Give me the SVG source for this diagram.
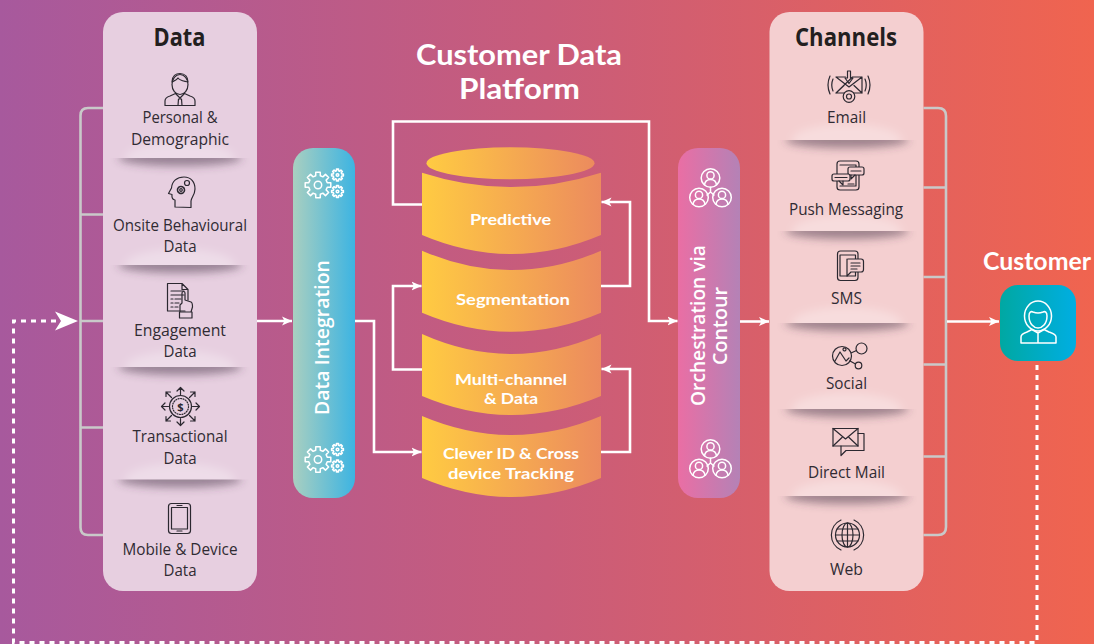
<svg xmlns="http://www.w3.org/2000/svg" xmlns:xlink="http://www.w3.org/1999/xlink" width="1094" height="644" viewBox="0 0 1094 644">
<style>
text{font-family:"Open Sans","Noto Sans","Liberation Sans",sans-serif;}
.lb{font-size:16px;fill:#302b33;text-anchor:middle;}
.hd{font-size:25px;font-weight:700;fill:#231f20;text-anchor:middle;}
.wt{font-family:Lato,"Open Sans",sans-serif;font-weight:700;fill:#fff;text-anchor:middle;}
.cy{font-family:Lato,"Open Sans",sans-serif;font-size:15.800px;font-weight:700;fill:#fff;text-anchor:middle;}
.rot{font-size:19.500px;font-weight:600;fill:#fff;text-anchor:middle;}
.flow{fill:none;stroke:#fff;stroke-width:2.600;}
.br{fill:none;stroke:#c9c9c9;stroke-width:2.600;}
.dash{fill:none;stroke:#fff;stroke-width:3;stroke-dasharray:5 5;}
.ic{fill:none;stroke:#2b2830;stroke-width:1.200;stroke-linejoin:round;stroke-linecap:round;}
.iw{fill:none;stroke:#fff;stroke-width:1.500;stroke-linejoin:round;stroke-linecap:round;}
</style>
<defs>
<linearGradient id="bg"><stop offset="0" stop-color="#a7599d"/><stop offset=".5" stop-color="#c95c7a"/><stop offset="1" stop-color="#f0644f"/></linearGradient>
<linearGradient id="cyl"><stop offset="0" stop-color="#ffcb42"/><stop offset="1" stop-color="#ec8b5e"/></linearGradient>
<linearGradient id="di"><stop offset="0" stop-color="#a9cfc0"/><stop offset="1" stop-color="#3db4e2"/></linearGradient>
<linearGradient id="or"><stop offset="0" stop-color="#ea6ea4"/><stop offset="1" stop-color="#b482b6"/></linearGradient>
<linearGradient id="cu"><stop offset="0" stop-color="#00a8a2"/><stop offset="1" stop-color="#00aee2"/></linearGradient>
<marker id="ah" markerUnits="userSpaceOnUse" markerWidth="12" markerHeight="10" refX="10" refY="5" orient="auto"><path d="M0 .5L10 5L0 9.500L2.500 5Z" fill="#fff"/></marker>
<filter id="bl" x="-20%" y="-100%" width="140%" height="300%"><feGaussianBlur stdDeviation="4"/></filter>
<clipPath id="below"><rect x="-70" y="0" width="140" height="26"/></clipPath>
<clipPath id="above"><rect x="-70" y="-26" width="140" height="26"/></clipPath>
<g id="sep">
<g clip-path="url(#above)"><ellipse cx="0" cy="0" rx="55" ry="16" fill="#fff" fill-opacity=".28" filter="url(#bl)"/></g>
<g clip-path="url(#below)"><ellipse cx="0" cy="0" rx="62" ry="8" fill="#4a3a4a" fill-opacity=".5" filter="url(#bl)"/></g>
</g>
<path id="gearshape" d="M-2.300-9.200L-2.260-12.800L2.260-12.800L2.300-9.200L4.890-8.140L7.460-10.650L10.650-7.460L8.140-4.890L9.220-2.300L12.800-2.260L12.800 2.260L9.220 2.300L8.140 4.890L10.650 7.460L7.460 10.650L4.890 8.140L2.300 9.200L2.260 12.800L-2.260 12.800L-2.300 9.200L-4.890 8.140L-7.460 10.650L-10.650 7.460L-8.140 4.890L-9.220 2.300L-12.800 2.260L-12.800-2.260L-9.220-2.300L-8.140-4.890L-10.650-7.460L-7.460-10.650L-4.890-8.140Z"/>
<g id="gears" class="iw">
<use xlink:href="#gearshape" href="#gearshape"/><circle r="3.700"/>
<g transform="translate(19.500,-10) scale(.46)" stroke-width="3.400"><use xlink:href="#gearshape" href="#gearshape"/><circle r="2.800"/></g>
<g transform="translate(19.500,6.500) scale(.46)" stroke-width="3.400"><use xlink:href="#gearshape" href="#gearshape"/><circle r="2.800"/></g>
</g>
<g id="pers"><circle r="9.300"/><circle cy="-2.600" r="3.600"/><path d="M-6 6.800C-5.500 2.500-3 1.400 0 1.400S5.500 2.500 6 6.800"/></g>
<g id="people" class="iw">
<use xlink:href="#pers" href="#pers" x="0" y="0"/><use xlink:href="#pers" href="#pers" x="-11.500" y="19.500"/><use xlink:href="#pers" href="#pers" x="11.500" y="19.500"/>
<path d="M0 9.300V14M0 14L-3.500 17M0 14L3.500 17"/>
</g>
</defs>

<rect id="background" width="1094" height="644" fill="url(#bg)"/>

<g id="connectors">
<path class="br" d="M103 108H88Q80.500 108 80.500 115.500V527.500Q80.500 535 88 535H103M80.500 214.500H103M80.500 321H103M80.500 427.500H103"/>
<path class="br" d="M923.500 108H938Q946 108 946 116V527Q946 535 938 535H923.500M923.500 187.500H946M923.500 277H946M923.500 364.500H946M923.500 456.500H946"/>
<path class="dash" d="M1037 365V642.500H13.500V321H56"/>
<polygon points="55,311.500 78,321 55,330.500 61,321" fill="#fff"/>
<path class="flow" d="M257 321H292" marker-end="url(#ah)"/>
<path class="flow" d="M355 321H374V452H421.500" marker-end="url(#ah)"/>
<path class="flow" d="M422 204.500H393V121.500H649V321H677.500" marker-end="url(#ah)"/>
<path class="flow" d="M601 286H630V202H601.500" marker-end="url(#ah)"/>
<path class="flow" d="M422 369.500H393V286H421.500" marker-end="url(#ah)"/>
<path class="flow" d="M601 452H630V369H601.500" marker-end="url(#ah)"/>
<path class="flow" d="M740 321.500H769" marker-end="url(#ah)"/>
<path class="flow" d="M947 321.500H999" marker-end="url(#ah)"/>
</g>

<g id="data-panel">
<rect x="103" y="12" width="154" height="579" rx="20" fill="#e7cfe0"/>
<text class="hd" x="179.500" y="46" textLength="52" lengthAdjust="spacingAndGlyphs">Data</text>
<use xlink:href="#sep" href="#sep" x="180" y="158"/>
<use xlink:href="#sep" href="#sep" x="180" y="265"/>
<use xlink:href="#sep" href="#sep" x="180" y="367"/>
<use xlink:href="#sep" href="#sep" x="180" y="479.500"/>
</g>
<g id="data-personal">
<g class="ic"><ellipse cx="180" cy="84.500" rx="8" ry="10"/><path d="M172 82C172 76 176 73.500 180 73.500C185 73.500 188 77 188 82C185 81 180 81 178 78C177 80 174 81 172 82Z"/><path d="M165 105.500V101C165 98 167 97 170 96L175.500 93.500L180 98L184.500 93.500L190 96C193 97 195 98 195 101V105.500ZM178 105.500L178.500 99H181.500L182 105.500"/></g>
<text class="lb" x="180" y="123" textLength="75" lengthAdjust="spacingAndGlyphs">Personal &amp;</text>
<text class="lb" x="180" y="145" textLength="98" lengthAdjust="spacingAndGlyphs">Demographic</text>
</g>
<g id="data-onsite">
<g class="ic"><path d="M175 207V200C171 199.500 172 196 172 194.500L168.500 193.500L171.500 188C172 181 177 177 184 177C191 177 195 182 195 189C195 195 191 198 191 201V207.500Z"/><circle cx="181" cy="190" r="3.500" stroke-dasharray="1.800 .9" stroke-width="1.600"/><circle cx="181" cy="190" r="1.300"/><circle cx="187" cy="183" r="2.500"/></g>
<text class="lb" x="180" y="231" textLength="134" lengthAdjust="spacingAndGlyphs">Onsite Behavioural</text>
<text class="lb" x="180" y="252" textLength="33" lengthAdjust="spacingAndGlyphs">Data</text>
</g>
<g id="data-engagement">
<g class="ic"><path d="M185 311H167.500V283.500H182L188 289.500V300M182 283.500V289.500H188M171 291H184M171 295H184M171 299H173M175 299H181M171 303H173M175 303H179M171 307H173M175 307H178"/><path d="M180 312V305L182 303V293C182 291 185 291 185 293V300L191 302C192.500 302.500 192.500 305 192.500 307L191 312M179.500 312H192V318H179.500Z"/></g>
<text class="lb" x="180" y="336" textLength="92" lengthAdjust="spacingAndGlyphs">Engagement</text>
<text class="lb" x="180" y="357" textLength="33" lengthAdjust="spacingAndGlyphs">Data</text>
</g>
<g id="data-transactional">
<g class="ic" transform="translate(180.500,406.500)" stroke-width="1.500"><circle r="11"/><circle r="8" stroke-dasharray="1 1.500"/>
<path d="M0-12V-19M-3.500-15.500L0-19L3.500-15.500M0 12V19M-3.500 15.500L0 19L3.500 15.500M-12 0H-19M-15.500-3.500L-19 0L-15.500 3.500M12 0H19M15.500-3.500L19 0L15.500 3.500M9-9L14.500-14.500M10-14.500H14.500V-10M-9-9L-14.500-14.500M-10-14.500H-14.500V-10M9 9L14.500 14.500M10 14.500H14.500V10M-9 9L-14.500 14.500M-10 14.500H-14.500V10"/></g>
<text x="180.500" y="410.500" font-size="11" font-weight="700" fill="#2b2830" text-anchor="middle">$</text>
<text class="lb" x="180" y="442" textLength="95" lengthAdjust="spacingAndGlyphs">Transactional</text>
<text class="lb" x="180" y="464" textLength="33" lengthAdjust="spacingAndGlyphs">Data</text>
</g>
<g id="data-mobile">
<g class="ic"><rect x="168.500" y="503.500" width="22" height="30" rx="3"/><rect x="171.500" y="507.500" width="16" height="21.500"/><path d="M177 531H182M177 505.500H182"/></g>
<text class="lb" x="180" y="555" textLength="115" lengthAdjust="spacingAndGlyphs">Mobile &amp; Device</text>
<text class="lb" x="180" y="576" textLength="33" lengthAdjust="spacingAndGlyphs">Data</text>
</g>

<g id="data-integration">
<rect x="293" y="148" width="62" height="350" rx="20" fill="url(#di)"/>
<use xlink:href="#gears" href="#gears" x="318" y="185"/>
<use xlink:href="#gears" href="#gears" x="318" y="459.500"/>
<text class="rot" transform="translate(329,337.500) rotate(-90)" textLength="155" lengthAdjust="spacingAndGlyphs">Data Integration</text>
</g>

<g id="cdp-title">
<text class="wt" x="519" y="65" font-size="28" textLength="206" lengthAdjust="spacingAndGlyphs">Customer Data</text>
<text class="wt" x="519.500" y="99" font-size="28" textLength="121" lengthAdjust="spacingAndGlyphs">Platform</text>
</g>

<g id="cylinder-top"><ellipse cx="510.500" cy="163.200" rx="84" ry="16" fill="url(#cyl)"/></g>
<g id="predictive">
<path fill="url(#cyl)" d="M422 172.700Q511.500 201.500 601 172.700V235Q511.500 273 422 235Z"/>
<text class="cy" x="510.500" y="225" textLength="81" lengthAdjust="spacingAndGlyphs">Predictive</text>
</g>
<g id="segmentation">
<path fill="url(#cyl)" d="M422 250.700Q511.500 289.500 601 250.700V312.700Q511.500 350.700 422 312.700Z"/>
<text class="cy" x="513" y="305" textLength="114" lengthAdjust="spacingAndGlyphs">Segmentation</text>
</g>
<g id="multichannel">
<path fill="url(#cyl)" d="M422 334Q511.500 374 601 334V396Q511.500 434 422 396Z"/>
<text class="cy" x="511" y="385" textLength="112" lengthAdjust="spacingAndGlyphs">Multi-channel</text>
<text class="cy" x="511" y="404" textLength="54" lengthAdjust="spacingAndGlyphs">&amp; Data</text>
</g>
<g id="clever-id">
<path fill="url(#cyl)" d="M422 416Q511.500 454 601 416V478Q511.500 516 422 478Z"/>
<text class="cy" x="511" y="459" textLength="136" lengthAdjust="spacingAndGlyphs">Clever ID &amp; Cross</text>
<text class="cy" x="511" y="479" textLength="126" lengthAdjust="spacingAndGlyphs">device Tracking</text>
</g>

<g id="orchestration">
<rect x="678" y="148" width="62" height="350" rx="20" fill="url(#or)"/>
<use xlink:href="#people" href="#people" x="710.500" y="178"/>
<use xlink:href="#people" href="#people" x="710.500" y="449"/>
<text class="rot" transform="translate(705,325.500) rotate(-90)" textLength="161" lengthAdjust="spacingAndGlyphs">Orchestration via</text>
<text class="rot" transform="translate(727,326) rotate(-90)" textLength="78" lengthAdjust="spacingAndGlyphs">Contour</text>
</g>

<g id="channels-panel">
<rect x="769.500" y="12" width="154" height="579" rx="20" fill="#f4cfd0"/>
<text class="hd" x="846" y="46" textLength="102" lengthAdjust="spacingAndGlyphs">Channels</text>
<use xlink:href="#sep" href="#sep" x="847" y="140"/>
<use xlink:href="#sep" href="#sep" x="847" y="231"/>
<use xlink:href="#sep" href="#sep" x="847" y="323"/>
<use xlink:href="#sep" href="#sep" x="847" y="409"/>
<use xlink:href="#sep" href="#sep" x="847" y="496"/>
</g>
<g id="channel-email">
<g class="ic"><path d="M836 77H845.500M852.500 77H862V93H836ZM836 77L849 87L862 77M836 93L844 85.500M862 93L854 85.500"/><path d="M847.500 71H850.500V78H853L849 83.500L845 78H847.500Z"/><circle cx="849" cy="96.500" r="5.800" fill="#f4cfd0"/><circle cx="849" cy="96.500" r="2.500"/><path d="M830 76Q826 85 830 94M833 79Q830.500 85 833 91M868 76Q872 85 868 94M865 79Q867.500 85 865 91"/></g>
<text class="lb" x="846.500" y="123" textLength="39" lengthAdjust="spacingAndGlyphs">Email</text>
</g>
<g id="channel-push">
<g class="ic"><rect x="837" y="161" width="22" height="29" rx="3"/><path d="M840 165H856V186H840"/><rect x="848" y="167" width="16" height="8" rx="2" fill="#f4cfd0"/><path d="M851 171H861M851 175V179L855 175"/><rect x="832" y="174" width="18" height="7" rx="2" fill="#f4cfd0"/><path d="M835 177.500H847M843 181V185L839 181M848 184H854"/></g>
<text class="lb" x="846" y="215" textLength="114" lengthAdjust="spacingAndGlyphs">Push Messaging</text>
</g>
<g id="channel-sms">
<g class="ic"><rect x="837.500" y="251" width="20.500" height="29.500" rx="3"/><path d="M840 255H855.500V276H840Z"/><path d="M848 259H861Q863.500 259 863.500 261.500V269.500Q863.500 272 861 272H851L847 276V259" fill="#f4cfd0"/><path d="M851 263H860M851 266H860M851 269H857"/></g>
<text class="lb" x="846.500" y="304" textLength="31" lengthAdjust="spacingAndGlyphs">SMS</text>
</g>
<g id="channel-social">
<g class="ic"><circle cx="842" cy="356" r="9.500"/><circle cx="861.500" cy="348.500" r="5.500"/><circle cx="858.500" cy="365.500" r="3.300"/><path d="M851 353L856.500 350.500M850 361L855.500 364M835 361L840 352L846 361L849 358M843 349.500A1.500 1.500 0 1 0 843 349.400"/></g>
<text class="lb" x="846.500" y="389" textLength="41" lengthAdjust="spacingAndGlyphs">Social</text>
</g>
<g id="channel-directmail">
<g class="ic" stroke-width="1.500"><rect x="833" y="428.500" width="25" height="17.500"/><path d="M833 428.500L845.500 439L858 428.500M833 446L842 437.500M858 446L849 437.500M858 433.500H864V450.500H846L841 455.500V446"/></g>
<text class="lb" x="846.500" y="478" textLength="77" lengthAdjust="spacingAndGlyphs">Direct Mail</text>
</g>
<g id="channel-web">
<g class="ic"><circle cx="847.500" cy="535" r="12"/><ellipse cx="847.500" cy="535" rx="5.500" ry="12"/><path d="M847.500 523V547M835.500 535H859.500M837 529H858M837 541H858"/><path d="M841 520A16.500 16.500 0 0 0 841 550M854 520A16.500 16.500 0 0 1 854 550"/></g>
<text class="lb" x="846.500" y="575" textLength="33" lengthAdjust="spacingAndGlyphs">Web</text>
</g>

<g id="customer">
<text class="wt" x="1037" y="270" font-size="24" textLength="108" lengthAdjust="spacingAndGlyphs">Customer</text>
<rect x="1000" y="285" width="76" height="76" rx="18" fill="url(#cu)"/>
<g class="iw" stroke-width="1.300"><ellipse cx="1038" cy="316" rx="13.500" ry="15"/><path d="M1029 316C1029 312 1031 311 1033 312Q1038 314 1043 312C1045 311 1047 312 1047 316C1047 324 1042 328 1038 328C1034 328 1029 324 1029 316Z"/><path d="M1021 343V337C1021 334 1024 333 1027 332L1032 329.500L1038 333L1044 329.500L1049 332C1052 333 1056 334 1056 337V343ZM1038 333V343"/></g>
</g>
</svg>
